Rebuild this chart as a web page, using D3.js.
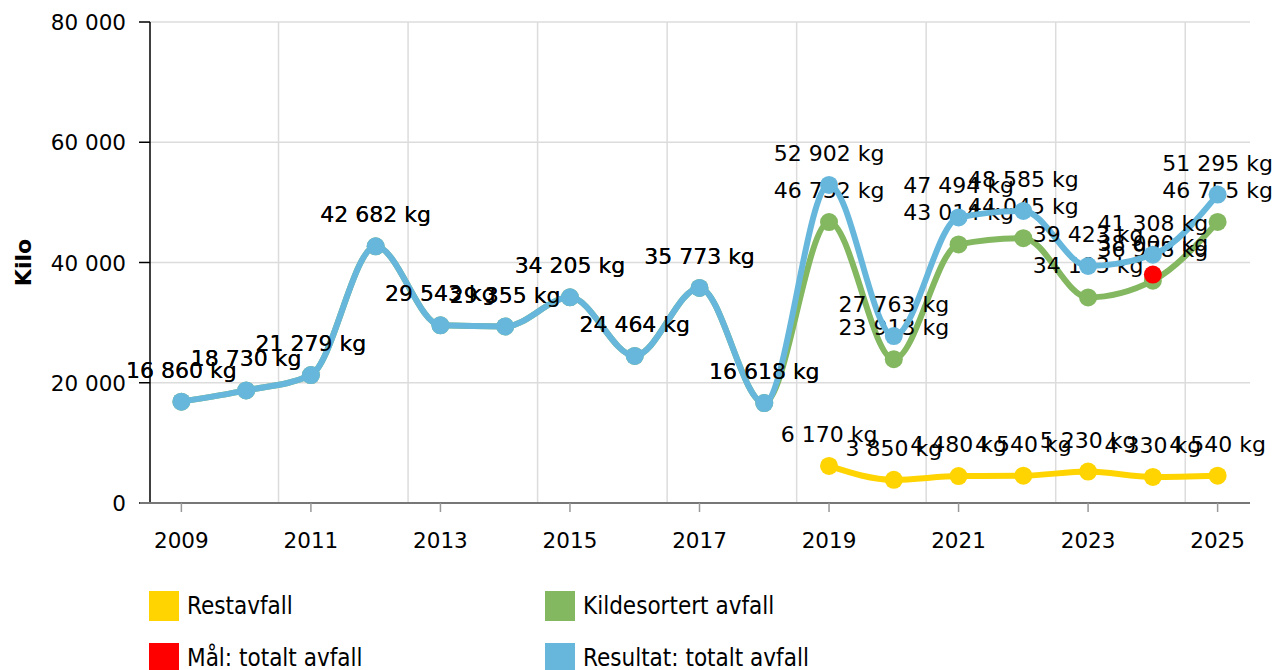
<!DOCTYPE html>
<html>
<head>
<meta charset="utf-8">
<script src="https://cdn.jsdelivr.net/npm/d3@7"></script>
<style>
  body { margin: 0; background: #fff; }
  svg { display: block; }
  text { font-family: "DejaVu Sans", Verdana, sans-serif; fill: #000; }
  .legend text { font-family: "DejaVu Sans Condensed", "DejaVu Sans", sans-serif; font-stretch: condensed; }
</style>
</head>
<body>
<div id="chart"></div>
<script>
const years = [2009, 2010, 2011, 2012, 2013, 2014, 2015, 2016, 2017, 2018, 2019, 2020, 2021, 2022, 2023, 2024, 2025];
const yTicks = [0, 20000, 40000, 60000, 80000];

// null = no value that year
const restavfall = [null, null, null, null, null, null, null, null, null, null, 6170, 3850, 4480, 4540, 5230, 4330, 4540];
const kildesortert = [16860, 18730, 21279, 42682, 29543, 29355, 34205, 24464, 35773, 16618, 46732, 23913, 43014, 44045, 34193, 36978, 46755];
const maal = [null, null, null, null, null, null, null, null, null, null, null, null, null, null, null, 38000, null];
const resultat = [16860, 18730, 21279, 42682, 29543, 29355, 34205, 24464, 35773, 16618, 52902, 27763, 47494, 48585, 39423, 41308, 51295];

const series = [
  { name: "Restavfall", values: restavfall, color: "#ffd400" },
  { name: "Kildesortert avfall", values: kildesortert, color: "#83b760" },
  { name: "Mål: totalt avfall", values: maal, color: "#ff0000" },
  { name: "Resultat: totalt avfall", values: resultat, color: "#67b7dc" }
];

const w = 1274, h = 670;
const plotLeft = 149, plotRight = 1250, plotTop = 22, plotBottom = 503;

const svg = d3.select("#chart").append("svg")
  .attr("width", w)
  .attr("height", h);

const x = d3.scaleBand().domain(years).range([plotLeft, plotRight]);
const cx = d => x(d) + x.bandwidth() / 2;
const y = d3.scaleLinear().domain([0, 80000]).range([plotBottom, plotTop]);

const fmt = v => d3.format(",")(v).replace(/,/g, " ");

// grid
const grid = svg.append("g");
grid.selectAll(".hg")
  .data(yTicks.slice(1))
  .enter().append("line")
  .attr("x1", 150).attr("x2", plotRight)
  .attr("y1", d => y(d)).attr("y2", d => y(d))
  .attr("stroke", "#dcdcdc").attr("stroke-width", 1.5);
grid.selectAll(".vg")
  .data(years.filter((d, i) => i % 2 === 0 && i > 0))
  .enter().append("line")
  .attr("x1", d => x(d)).attr("x2", d => x(d))
  .attr("y1", plotTop).attr("y2", plotBottom)
  .attr("stroke", "#dcdcdc").attr("stroke-width", 1.5);

// y axis
const yAxis = svg.append("g");
yAxis.append("line")
  .attr("x1", 150).attr("x2", 150).attr("y1", plotTop).attr("y2", plotBottom)
  .attr("stroke", "#000").attr("stroke-width", 1.5);
yAxis.selectAll(".yt")
  .data(yTicks)
  .enter().append("line")
  .attr("x1", 139).attr("x2", 150)
  .attr("y1", d => y(d)).attr("y2", d => y(d))
  .attr("stroke", "#000").attr("stroke-width", 1.5);
yAxis.selectAll(".yl")
  .data(yTicks)
  .enter().append("text")
  .attr("x", 126)
  .attr("y", d => y(d) + 8)
  .attr("text-anchor", "end")
  .style("font-size", "21.5px")
  .text(d => fmt(d));

svg.append("text")
  .attr("transform", `translate(31, ${(plotTop + plotBottom) / 2}) rotate(-90)`)
  .attr("text-anchor", "middle")
  .style("font-size", "22px")
  .style("font-weight", "bold")
  .text("Kilo");

// x axis
const xAxis = svg.append("g");
xAxis.append("line")
  .attr("x1", 140).attr("x2", plotRight)
  .attr("y1", plotBottom).attr("y2", plotBottom)
  .attr("stroke", "#777").attr("stroke-width", 2);
const oddYears = years.filter((d, i) => i % 2 === 0);
xAxis.selectAll(".xt")
  .data(oddYears)
  .enter().append("line")
  .attr("x1", d => cx(d)).attr("x2", d => cx(d))
  .attr("y1", plotBottom).attr("y2", plotBottom + 9)
  .attr("stroke", "#999").attr("stroke-width", 1.5);
xAxis.selectAll(".xl")
  .data(oddYears)
  .enter().append("text")
  .attr("x", d => cx(d))
  .attr("y", 548)
  .attr("text-anchor", "middle")
  .style("font-size", "21.5px")
  .text(d => d);

// series
const line = d3.line()
  .defined(d => d.v !== null)
  .x(d => cx(d.year))
  .y(d => y(d.v))
  .curve(d3.curveMonotoneX);

series.forEach(s => {
  const pts = years.map((year, i) => ({ year, v: s.values[i] }));
  const valid = pts.filter(d => d.v !== null);
  const g = svg.append("g");
  if (valid.length > 1) {
    g.append("path")
      .datum(valid)
      .attr("d", line)
      .attr("fill", "none")
      .attr("stroke", s.color)
      .attr("stroke-width", 6)
      .attr("stroke-linejoin", "round");
  }
  g.selectAll("circle")
    .data(valid)
    .enter().append("circle")
    .attr("cx", d => cx(d.year))
    .attr("cy", d => y(d.v))
    .attr("r", 9)
    .attr("fill", s.color);
  g.selectAll("text")
    .data(valid)
    .enter().append("text")
    .attr("x", d => cx(d.year))
    .attr("y", d => y(d.v) - 24)
    .attr("text-anchor", "middle")
    .style("font-size", "22px")
    .text(d => fmt(d.v) + " kg");
});

// legend
const legend = svg.append("g").attr("class", "legend");
const items = legend.selectAll("g")
  .data(series)
  .enter().append("g")
  .attr("transform", (d, i) => `translate(${149 + (i % 2) * 396}, ${591 + Math.floor(i / 2) * 52})`);
items.append("rect")
  .attr("width", 30).attr("height", 30)
  .attr("fill", d => d.color);
items.append("text")
  .attr("x", 38).attr("y", 23)
  .style("font-size", "24px")
  .text(d => d.name);
</script>
</body>
</html>
